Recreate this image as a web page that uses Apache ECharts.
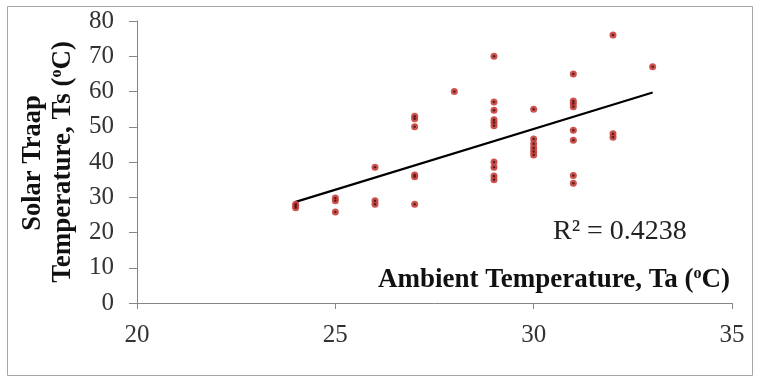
<!DOCTYPE html>
<html>
<head>
<meta charset="utf-8">
<script src="https://cdn.jsdelivr.net/npm/echarts@6/dist/echarts.min.js"></script>
<style>html,body{margin:0;padding:0;background:#fff}#c{width:761px;height:384px}</style>
</head>
<body>
<div id="c"></div>
<script>
// Ambient temperature (x) and solar trap temperature (y) readings
const ambientTa = [24,24,24, 25,25,25, 26,26,26, 27,27,27,27,27,27, 28,
  29,29,29,29,29,29,29,29,29,29,
  30,30,30,30,30,30,
  31,31,31,31,31,31,31,31,
  32,32,32, 33];
const solarTs = [28,27.5,27, 29.8,29,25.8, 38.5,29,28, 53,52.3,50,36.3,35.8,28, 60,
  70,57,54.7,52,51.2,50.3,40,38.5,36,35,
  55,46.5,45.2,44,43,42,
  65,57.3,56.6,55.7,49,46.2,36.2,34,
  76,48,47, 67];
// Linear trendline endpoints
const trendX = [24, 33];
const trendY = [28.7, 59.7];
const xTicks = [20, 25, 30, 35];
const yTicks = [0, 10, 20, 30, 40, 50, 60, 70, 80];
const r2Label = 'R² = 0.4238';

const pts = ambientTa.map((x, i) => [x, solarTs[i]]);
const trend = trendX.map((x, i) => [x, trendY[i]]);
const serif = '"Liberation Serif","DejaVu Serif",serif';

const chart = echarts.init(document.getElementById('c'));
chart.setOption({
  animation: false,
  backgroundColor: '#fff',
  grid: {left: 137, right: 29, top: 21, bottom: 81},
  xAxis: {
    type: 'value', min: xTicks[0], max: xTicks[xTicks.length-1], interval: 5,
    splitLine: {show: false},
    axisLine: {lineStyle: {color: '#868686', width: 1}},
    axisTick: {show: true, inside: false, length: 6, lineStyle: {color: '#868686'}},
    axisLabel: {fontFamily: serif, fontSize: 25, color: '#333', margin: 20}
  },
  yAxis: {
    type: 'value', min: yTicks[0], max: yTicks[yTicks.length-1], interval: 10,
    splitLine: {show: false},
    axisLine: {show: true, lineStyle: {color: '#868686', width: 1}},
    axisTick: {show: true, inside: false, length: 8, lineStyle: {color: '#868686'}},
    axisLabel: {fontFamily: serif, fontSize: 25, color: '#333', margin: 23}
  },
  series: [
    {type: 'line', data: trend, symbol: 'none', lineStyle: {color: '#000', width: 2.2}, z: 2},
    {type: 'scatter', data: pts, symbolSize: 7, itemStyle: {color: '#c8403c', opacity: 0.9}, z: 3},
    {type: 'scatter', data: pts, symbolSize: 2.5, itemStyle: {color: '#3a1010'}, z: 4, silent: true}
  ],
  graphic: [
    {type: 'rect', shape: {x: 7.5, y: 6.5, width: 745, height: 369}, style: {fill: 'none', stroke: '#a6a6a6', lineWidth: 1}, z: -1},
    {type: 'text', left: 553, top: 218, style: {text: r2Label, font: '28px ' + serif, fill: '#222'}},
    {type: 'text', left: 378, top: 266, style: {
      text: '{b|Ambient Temperature, Ta (}{s|o}{b|C)}',
      rich: {
        b: {fontFamily: serif, fontSize: 27, fontWeight: 'bold', fill: '#111', verticalAlign: 'bottom'},
        s: {fontFamily: serif, fontSize: 16, fontWeight: 'bold', fill: '#111', verticalAlign: 'top', padding: [0,0,12,0]}
      }}},
    {type: 'text', x: 33, y: 163, rotation: Math.PI/2, style: {
      text: 'Solar Traap', font: 'bold 26.5px ' + serif, fill: '#111', align: 'center', verticalAlign: 'middle'}},
    {type: 'text', x: 63, y: 162, rotation: Math.PI/2, style: {
      text: '{b|Temperature, Ts (}{s|o}{b|C)}', align: 'center', verticalAlign: 'middle',
      rich: {
        b: {fontFamily: serif, fontSize: 27, fontWeight: 'bold', fill: '#111'},
        s: {fontFamily: serif, fontSize: 16, fontWeight: 'bold', fill: '#111', padding: [0,0,12,0]}
      }}}
  ]
});
</script>
</body>
</html>
